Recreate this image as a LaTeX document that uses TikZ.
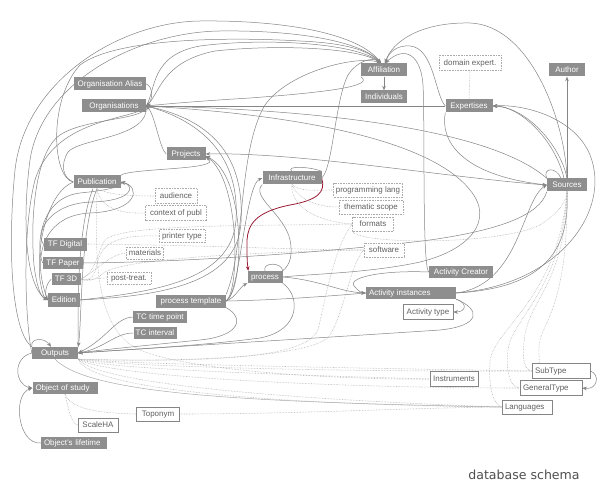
\documentclass[tikz,border=0pt]{standalone}
\usepackage{fontspec}
\setmainfont{Liberation Sans}
\newfontfamily\titlefont{DejaVu Sans}
\usetikzlibrary{arrows.meta}
\definecolor{boxfill}{HTML}{8E8E8E}
\definecolor{linecol}{HTML}{858585}
\definecolor{dotcol}{HTML}{ABABAB}
\definecolor{txtgray}{HTML}{606060}
\definecolor{redcol}{HTML}{9A1B33}
\definecolor{titlecol}{HTML}{505050}
\pgfdeclarelayer{bg}
\pgfsetlayers{bg,main}
\newcommand\bxfont{\fontsize{8}{9.6}\selectfont}
\begin{document}
\begin{tikzpicture}[x=1bp,y=-1bp,
 gbox/.style={fill=boxfill,text=white,font=\bxfont,inner sep=0pt,minimum height=13bp,text height=6bp,text depth=1.6bp},
 dbox/.style={draw=dotcol,densely dotted,line width=0.6bp,fill=white,text=txtgray,font=\bxfont,inner sep=0pt,minimum height=14bp,text height=6bp,text depth=1.6bp},
 sbox/.style={draw=linecol,line width=0.6bp,fill=white,text=txtgray,font=\bxfont,inner sep=0pt,minimum height=14bp,text height=6bp,text depth=1.6bp},
 ln/.style={draw=linecol,line width=0.5bp},
 ar/.style={ln,-{Stealth[length=4.5bp,width=3.6bp]}},
 dl/.style={draw=dotcol,densely dotted,line width=0.55bp},
 rl/.style={draw=redcol,line width=0.8bp,-{Stealth[length=4.5bp,width=3.6bp]}}]
\useasboundingbox (0,0) rectangle (604,491);

% nodes
\node[gbox,minimum width=72bp] (orgalias) at (110,84) {Organisation Alias};
\node[gbox,minimum width=64bp] (orgs) at (114,106) {Organisations};
\node[gbox,minimum width=39bp] (projects) at (186,154) {Projects};
\node[gbox,minimum width=46bp] (affil) at (384,70) {Affiliation};
\node[gbox,minimum width=46bp] (indiv) at (384,97) {Individuals};
\node[dbox,minimum width=62bp,minimum height=15bp] (domexp) at (470,63) {domain expert.};
\node[gbox,minimum width=47bp] (expert) at (469,106) {Expertises};
\node[gbox,minimum width=36bp] (author) at (567,70) {Author};
\node[gbox,minimum width=47bp] (pub) at (97,182) {Publication};
\node[dbox,minimum width=42bp,minimum height=15bp] (audience) at (176,196) {audience};
\node[dbox,minimum width=61bp,minimum height=15bp] (context) at (176,213) {context of publ};
\node[gbox,minimum width=59bp] (infra) at (292,178) {Infrastructure};
\node[dbox,minimum width=69bp] (proglang) at (368,190) {programming lang};
\node[dbox,minimum width=64bp] (thematic) at (371,207) {thematic scope};
\node[dbox,minimum width=41bp] (formats) at (373,224) {formats};
\node[dbox,minimum width=40bp] (software) at (384,250) {software};
\node[gbox,minimum width=40bp] (sources) at (567,185) {Sources};
\node[gbox,minimum width=64bp,minimum height=12bp] (actcreator) at (461,272) {Activity Creator};
\node[gbox,text width=84bp,align=left,inner xsep=3bp,minimum height=12bp] (actinst) at (411,293) {Activity instances};
\node[sbox,minimum width=50bp,minimum height=15bp] (acttype) at (428,312) {Activity type};
\node[gbox,minimum width=43bp] (tfdig) at (65,244) {TF Digital};
\node[dbox,minimum width=46bp,minimum height=13bp] (printer) at (182,236) {printer type};
\node[dbox,minimum width=37bp,minimum height=12bp] (materials) at (145,253) {materials};
\node[gbox,minimum width=40bp,minimum height=12bp] (tfpaper) at (63,263) {TF Paper};
\node[gbox,minimum width=29bp,minimum height=12bp] (tf3d) at (66,279) {TF 3D};
\node[dbox,minimum width=44bp,minimum height=12bp] (posttreat) at (129,278) {post-treat.};
\node[gbox,minimum width=32bp,minimum height=14bp] (edition) at (64,300) {Edition};
\node[gbox,minimum width=35bp,minimum height=12bp] (process) at (265,277) {process};
\node[gbox,minimum width=70bp] (proctemp) at (191,301) {process template};
\node[gbox,minimum width=54bp,minimum height=12bp] (tctime) at (160,317) {TC time point};
\node[gbox,minimum width=43bp,minimum height=12bp] (tcint) at (155,333) {TC interval};
\node[gbox,minimum width=46bp,minimum height=12bp] (outputs) at (55,353) {Outputs};
\node[gbox,text width=59bp,align=left,inner xsep=3bp,minimum height=12bp] (objstudy) at (65,388) {Object of study};
\node[sbox,minimum width=43bp] (toponym) at (158,414) {Toponym};
\node[sbox,minimum width=40bp] (scaleha) at (98,425) {ScaleHA};
\node[gbox,text width=60bp,align=left,inner xsep=3bp,minimum height=12bp] (lifetime) at (74,443) {Object's lifetime};
\node[sbox,minimum width=48bp,minimum height=15bp] (instruments) at (454,379) {Instruments};
\node[sbox,text width=52bp,align=left,inner xsep=3bp,minimum height=15bp] (subtype) at (561,371) {SubType};
\node[sbox,text width=56bp,align=left,inner xsep=3bp,minimum height=15bp] (generaltype) at (551,388) {GeneralType};
\node[sbox,text width=44bp,align=left,inner xsep=3bp] (languages) at (527,407) {Languages};
\node[font=\titlefont\fontsize{12.6}{15}\selectfont,text=titlecol] (title) at (524,475) {database schema};

\begin{pgfonlayer}{bg}
\fill[white] (0,0) rectangle (604,491);
% into Affiliation
\draw[ar] (outputs.north west) .. controls (10,330) and (8,240) .. (15,170) .. controls (25,80) and (120,22) .. (200,21) .. controls (290,20) and (360,35) .. ([xshift=-3bp]affil.north);
\draw[ar] (edition.west) .. controls (25,290) and (22,220) .. (30,160) .. controls (42,80) and (140,32) .. (220,31) .. controls (300,30) and (362,42) .. ([xshift=-3bp]affil.north);
\draw[ar] (pub.west) .. controls (52,178) and (48,100) .. (80,65) .. controls (120,35) and (250,38) .. (300,41) .. controls (345,43) and (368,50) .. ([xshift=-3bp]affil.north);
\draw[ar] (orgs.east) .. controls (156,90) and (150,55) .. (200,46) .. controls (260,38) and (355,42) .. ([xshift=-3bp]affil.north);
\draw[ar] (orgs.east) .. controls (160,95) and (160,62) .. (215,51) .. controls (280,44) and (360,48) .. ([xshift=-3bp]affil.north);
\draw[ar] (infra.east) .. controls (333,168) and (335,100) .. (348,75) .. controls (356,62) and (372,56) .. ([xshift=-3bp]affil.north);
\draw[ar] (proctemp.north east) .. controls (245,250) and (238,150) .. (265,105) .. controls (290,70) and (360,55) .. ([xshift=-3bp]affil.north);
\draw[ar] (sources.north) .. controls (565,120) and (530,25) .. (470,23) .. controls (420,22) and (392,42) .. ([xshift=1bp]affil.north);
\draw[ar] (actcreator.west) .. controls (422,268) and (425,120) .. (423,85) .. controls (421,55) and (405,45) .. ([xshift=1bp]affil.north);
\draw[ar] (expert.west) .. controls (435,95) and (434,48) .. (410,46) .. controls (397,45) and (389,52) .. ([xshift=1bp]affil.north);
\draw[ar] (affil.south) -- (indiv.north);
% into Organisations
\draw[ar] (orgalias.east) .. controls (153,86) and (153,100) .. (orgs.east);
\draw[ar] (projects.west) .. controls (160,150) and (155,115) .. (orgs.east);
\draw[ar] (affil.south west) .. controls (375,86) and (330,92) .. (250,98) .. controls (200,101) and (165,104) .. (orgs.east);
\draw[ln] (orgs.east) -- (expert.west);
\draw[ln] (orgs.east) .. controls (260,108) and (480,120) .. (sources.north west);
\draw[ln] (orgs.east) .. controls (300,115) and (430,140) .. (470,190) .. controls (495,220) and (470,250) .. (420,262) .. controls (370,273) and (310,274) .. (process.east);
\draw[ln] (edition.east) .. controls (150,292) and (232,282) .. (236,220) .. controls (240,155) and (200,120) .. (orgs.east);
\draw[ln] (edition.east) .. controls (155,296) and (238,286) .. (241,222) .. controls (245,150) and (205,118) .. (orgs.east);
\draw[ar] (orgs.east) .. controls (148,120) and (85,118) .. (60,135) .. controls (35,152) and (30,220) .. (34,265) .. controls (37,290) and (42,298) .. (edition.west);
\draw[ln] (orgs.east) .. controls (150,138) and (80,138) .. (68,152) .. controls (60,165) and (63,178) .. (pub.west);
\draw[ln] (orgs.east) .. controls (140,120) and (55,115) .. (35,180) .. controls (22,230) and (25,320) .. (outputs.west);
% into Projects
\draw[ar] (proctemp.east) .. controls (240,290) and (240,180) .. ([yshift=-2bp]projects.east);
\draw[ar] (proctemp.east) .. controls (245,288) and (246,175) .. ([yshift=-2bp]projects.east);
\draw[ar] (sources.west) .. controls (450,178) and (300,152) .. (projects.east);
\draw[ar] (pub.north east) .. controls (130,168) and (225,170) .. ([yshift=-3bp]projects.east);
% Expertises, Sources, Author
\draw[dl] (domexp.south) -- (expert.north);
\draw[ar] (sources.north) .. controls (562,150) and (530,108) .. (expert.east);
\draw[ar] ([xshift=-3bp]sources.north) .. controls (555,140) and (520,106) .. (expert.east);
\draw[ar] (actinst.east) .. controls (560,285) and (612,210) .. (590,155) .. controls (575,118) and (525,104) .. (expert.east);
\draw[ar] (expert.south west) .. controls (440,140) and (460,175) .. (sources.west);
\draw[ar] (sources.north) -- (author.south);
\draw[ln] (sources.north west) .. controls (542,168) and (556,166) .. ([xshift=-6bp]sources.north);
\draw[ar] (actinst.east) .. controls (520,285) and (522,200) .. (sources.west);
\draw[ln] (actinst.east) .. controls (545,288) and (570,250) .. (sources.south);
% Activity
\draw[ar] (actinst.south east) .. controls (468,303) and (466,312) .. (acttype.east);
\draw[ar] (actinst.south east) .. controls (482,310) and (480,326) .. (440,330) .. controls (320,338) and (150,348) .. (outputs.east);
\draw[ar] (process.east) .. controls (320,280) and (340,292) .. (actinst.west);
\draw[ln] (proctemp.east) .. controls (280,300) and (330,296) .. (actinst.west);
\draw[ar] (actcreator.west) .. controls (380,270) and (345,278) .. (355,287) .. controls (358,291) and (362,293) .. (actinst.west);
% process
\draw[ar] (proctemp.east) .. controls (240,295) and (245,185) .. (infra.west);
\draw[ar] (proctemp.east) .. controls (235,298) and (240,287) .. (process.south west);
\draw[ln] (process.north) .. controls (262,262) and (282,262) .. (process.north east);
\draw[ln] (infra.north) .. controls (285,166) and (308,166) .. (infra.north east);
\draw[ln] (infra.south west) .. controls (250,196) and (285,215) .. (290,240) .. controls (293,255) and (290,265) .. (process.north east);
\draw[rl] (infra.east) .. controls (326,192) and (318,200) .. (290,205) .. controls (255,212) and (248,225) .. (247,240) .. controls (247,255) and (247,262) .. ([xshift=1bp]process.north west);
\draw[ar] (process.south east) .. controls (300,295) and (302,330) .. (260,338) .. controls (200,346) and (120,350) .. (outputs.east);
\draw[ar] (proctemp.south east) .. controls (245,318) and (240,336) .. (200,340) .. controls (150,345) and (100,350) .. (outputs.east);
\draw[ar] (tctime.west) .. controls (115,318) and (108,338) .. (outputs.east);
\draw[ar] (tcint.west) .. controls (115,333) and (105,348) .. (outputs.east);
\draw[ar] (pub.south) .. controls (80,230) and (82,320) .. (outputs.north east);
\draw[ln] ([xshift=-4bp]pub.south) .. controls (76,230) and (78,320) .. (outputs.north east);
% Publication / Edition
\draw[ar] (edition.west) .. controls (30,255) and (45,215) .. (90,213) .. controls (140,211) and (140,186) .. (pub.east);
\draw[ar] (tfdig.west) .. controls (35,232) and (50,203) .. (92,202) .. controls (132,201) and (136,186) .. (pub.east);
\draw[ln] (tfpaper.west) .. controls (36,250) and (38,198) .. (80,193) .. controls (110,190) and (125,186) .. (pub.east);
\draw[ar] (pub.west) .. controls (48,192) and (36,245) .. (40,280) .. controls (42,292) and (44,298) .. (edition.west);
\draw[ar] (tf3d.west) .. controls (45,285) and (45,295) .. (edition.west);
\draw[dl] (pub.south) .. controls (110,195) and (130,196) .. (audience.west);
\draw[dl] (pub.south) .. controls (100,208) and (120,214) .. (context.west);
\draw[dl] (pub.south) .. controls (95,260) and (95,330) .. (140,350) .. controls (200,375) and (380,380) .. (instruments.west);
% TF dotted
\draw[dl] (tfdig.east) .. controls (200,245) and (300,250) .. (software.west);
\draw[dl] (printer.west) .. controls (105,234) and (100,250) .. (96,268) .. controls (94,278) and (88,282) .. (tf3d.east);
\draw[dl] (materials.west) .. controls (110,254) and (98,270) .. (tf3d.east);
\draw[dl] (posttreat.west) .. controls (95,278) and (90,281) .. (tf3d.east);
\draw[dl] (formats.west) .. controls (250,226) and (120,224) .. (105,240) .. controls (98,250) and (95,275) .. (tf3d.east);
\draw[dl] (software.west) .. controls (260,252) and (130,258) .. (105,272) .. controls (98,278) and (90,283) .. (tf3d.east);
\draw[ln] (tfpaper.east) .. controls (200,262) and (350,250) .. (430,240) .. controls (500,230) and (540,215) .. (sources.south west);
% Infrastructure dotted
\draw[dl] (infra.south) .. controls (300,192) and (315,190) .. (proglang.west);
\draw[dl] (infra.south) .. controls (298,200) and (318,207) .. (thematic.west);
\draw[dl] (infra.south) .. controls (290,208) and (320,222) .. (formats.west);
\draw[dl] (formats.south west) .. controls (360,245) and (500,245) .. (540,225) .. controls (560,212) and (567,200) .. (sources.south);
\draw[dl] (formats.west) .. controls (335,245) and (325,300) .. (318,330) .. controls (305,360) and (200,362) .. (outputs.south east);
\draw[dl] (software.west) .. controls (350,265) and (345,310) .. (330,335) .. controls (315,360) and (150,362) .. (outputs.south east);
% Outputs fan
\draw[dl] (outputs.south east) .. controls (100,368) and (250,374) .. (instruments.west);
\draw[dl] (outputs.south east) .. controls (120,364) and (350,368) .. (subtype.west);
\draw[dl] (outputs.south east) .. controls (110,366) and (330,372) .. (subtype.west);
\draw[dl] (outputs.south east) .. controls (110,378) and (350,388) .. (generaltype.west);
\draw[dl] (outputs.south east) .. controls (100,385) and (300,400) .. (languages.west);
\draw[dl] (outputs.south east) .. controls (90,392) and (300,405) .. (languages.west);
\draw[ln,draw=dotcol] (outputs.south) .. controls (90,395) and (250,402) .. (languages.west);
\draw[dl] (toponym.east) .. controls (300,414) and (400,408) .. (languages.west);
\draw[dl] (objstudy.south) .. controls (68,408) and (72,425) .. (scaleha.west);
\draw[dl] (objstudy.south) .. controls (72,410) and (100,413) .. (toponym.west);
% Outputs / Object of study
\draw[ar] (outputs.west) .. controls (12,358) and (15,385) .. (objstudy.west);
\draw[ar] (lifetime.west) .. controls (18,445) and (12,395) .. (objstudy.west);
\draw[ar] (outputs.north west) .. controls (30,338) and (44,337) .. ([xshift=-4bp]outputs.north);
% Sources dotted to types
\draw[dl] (sources.south) .. controls (566,280) and (530,300) .. (525,335) .. controls (521,360) and (525,371) .. (subtype.west);
\draw[dl] (sources.south) .. controls (568,300) and (545,320) .. (540,340) .. controls (536,360) and (545,366) .. (subtype.west);
\draw[dl] (sources.south) .. controls (562,290) and (512,318) .. (508,350) .. controls (505,375) and (512,388) .. (generaltype.west);
\draw[dl] (sources.south) .. controls (558,300) and (492,330) .. (490,362) .. controls (488,392) and (495,405) .. (languages.west);
\draw[ar] (subtype.east) .. controls (600,374) and (598,390) .. (generaltype.east);
\end{pgfonlayer}
\end{tikzpicture}
\end{document}
